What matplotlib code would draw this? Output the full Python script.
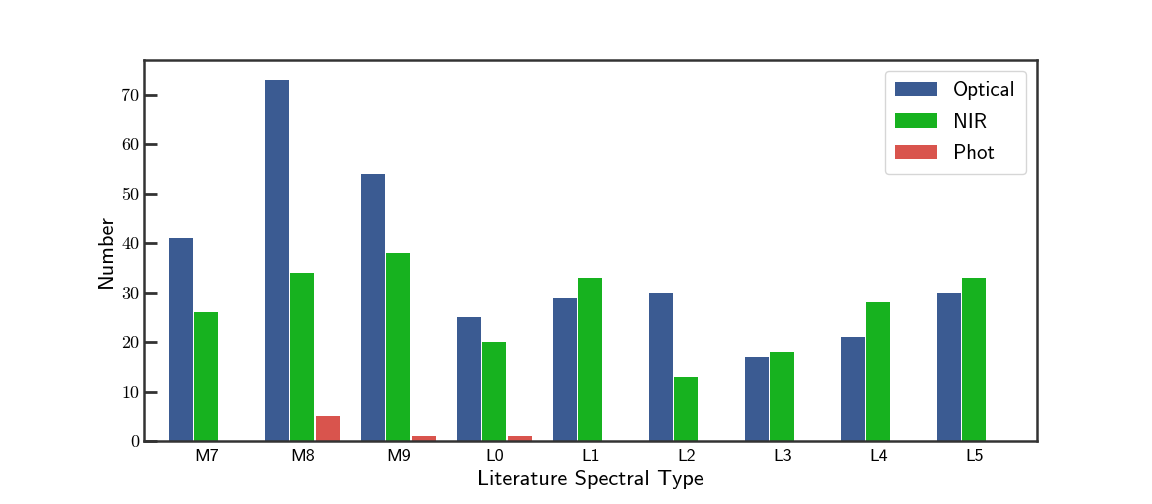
import numpy as np
import matplotlib
matplotlib.use("Agg")
import matplotlib.pyplot as plt

types = ["M7", "M8", "M9", "L0", "L1", "L2", "L3", "L4", "L5"]
optical = [41, 73, 54, 25, 29, 30, 17, 21, 30]
nir = [26, 34, 38, 20, 33, 13, 18, 28, 33]
phot = [0, 5, 1, 1, 0, 0, 0, 0, 0]

plt.rcParams['font.family'] = 'cmss10'
plt.rcParams['axes.formatter.use_mathtext'] = True
plt.rcParams['mathtext.fontset'] = 'cm'

fig, ax = plt.subplots(figsize=(11.52, 5.04), dpi=100)
fig.subplots_adjust(left=0.125, right=0.9, bottom=0.125, top=0.88)

x = np.arange(len(types))
w = 0.25
off = 0.265
ax.bar(x - off, optical, w, color='#3b5b92', label='Optical')
ax.bar(x, nir, w, color='#17b21f', label='NIR')
ax.bar(x + off, phot, w, color='#d9544d', label='Phot')

ax.set_xlim(-0.65, 8.65)
ax.set_ylim(0, 76.9)
ax.set_xticks(x)
ax.set_xticklabels(types, fontsize=13)
ax.set_yticks(np.arange(0, 80, 10))
ax.set_yticklabels([str(v) for v in range(0, 80, 10)], fontfamily='cmr10', fontsize=13)
ax.tick_params(axis='y', direction='in', length=9, width=2, color='#333333')
ax.tick_params(axis='x', length=0, pad=6)
for s in ax.spines.values():
    s.set_linewidth(1.8)
    s.set_color('#333333')

ax.set_xlabel('Literature Spectral Type', fontsize=16, labelpad=4)
ax.set_ylabel('Number', fontsize=16)
leg = ax.legend(loc='upper right', fontsize=15, fancybox=True, edgecolor='#cccccc',
                handlelength=2.0, borderpad=0.5, labelspacing=0.6)

plt.savefig('out.png')
